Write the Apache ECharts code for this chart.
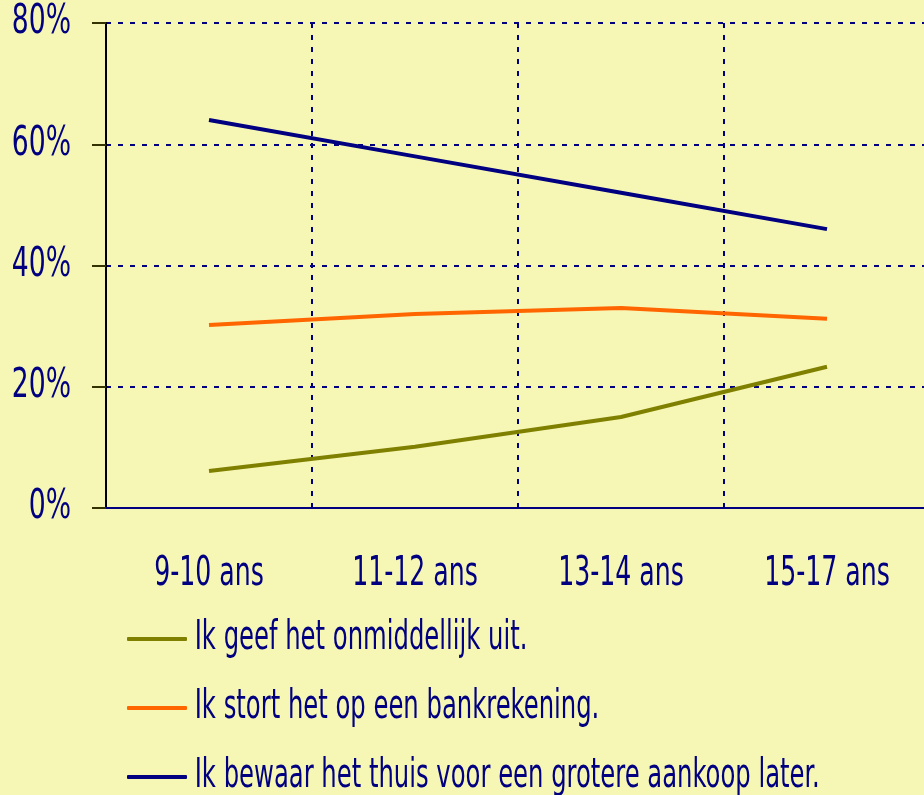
<!DOCTYPE html>
<html>
<head>
<meta charset="utf-8">
<script src="https://cdn.jsdelivr.net/npm/echarts@6/dist/echarts.min.js"></script>
<style>
html,body{margin:0;padding:0;background:#F7F7B5;}
#c{width:924px;height:795px;}
</style>
</head>
<body>
<div id="c"></div>
<script>
var categories = ['9-10 ans', '11-12 ans', '13-14 ans', '15-17 ans'];
var seriesNames = [
  'Ik geef het onmiddellijk uit.',
  'Ik stort het op een bankrekening.',
  'Ik bewaar het thuis voor een grotere aankoop later.'
];
var spendNow = [6.1, 10.1, 15.0, 23.3];
var bankAccount = [30.2, 32.0, 33.0, 31.2];
var saveAtHome = [64.0, 58.0, 52.0, 46.0];
var seriesColors = ['#808000', '#FF6600', '#000080'];

var FONT = '"DejaVu Sans Condensed", "Liberation Sans Narrow", sans-serif';
var TXT = '#000080';
var FS = 40;
// horizontal squeeze per text kind, to mimic the condensed typeface of the original
var SQUEEZE = { right: 0.74, center: 0.70, left: 0.675 };

var chart = echarts.init(document.getElementById('c'));
var values = [spendNow, bankAccount, saveAtHome];
chart.setOption({
  backgroundColor: '#F7F7B5',
  animation: false,
  grid: { left: 106, right: -6, top: 23, bottom: 287, containLabel: false, outerBoundsMode: 'none' },
  xAxis: {
    type: 'category',
    data: categories,
    boundaryGap: true,
    axisLine: { show: true, lineStyle: { color: '#000080', width: 2 } },
    axisTick: { show: false },
    axisLabel: { color: TXT, fontFamily: FONT, fontSize: FS, lineHeight: 40, margin: 47, interval: 0 },
    splitLine: { show: true, interval: 0, lineStyle: { color: '#000080', type: [5, 7], width: 2 } }
  },
  yAxis: {
    type: 'value',
    min: 0, max: 80, interval: 20,
    axisLine: { show: true, lineStyle: { color: '#000000', width: 2 } },
    axisTick: { show: true, length: 14, lineStyle: { color: '#333300', width: 2 } },
    axisLabel: { color: TXT, fontFamily: FONT, fontSize: FS, margin: 35, formatter: '{value}%' },
    splitLine: { show: true, lineStyle: { color: '#000080', type: [5, 7], width: 2 } }
  },
  legend: {
    orient: 'vertical',
    left: 127,
    top: 619,
    height: 180,
    padding: 0,
    itemWidth: 60,
    itemHeight: 4,
    itemGap: 29,
    icon: 'roundRect',
    textStyle: { color: TXT, fontFamily: FONT, fontSize: FS, lineHeight: 40, padding: [0, 0, 0, 4] },
    data: seriesNames
  },
  series: seriesNames.map(function (n, i) {
    return {
      name: n,
      type: 'line',
      data: values[i],
      showSymbol: false,
      symbol: 'none',
      color: seriesColors[i],
      lineStyle: { color: seriesColors[i], width: 4 }
    };
  })
});

function squeezeTexts(el) {
  if (el.type === 'text' && !el.__squeezed) {
    var align = (el.style && el.style.align) || 'left';
    var s = SQUEEZE[align] || SQUEEZE.left;
    el.originX = (el.style && el.style.x) || 0;
    el.scaleX = s;
    el.__squeezed = true;
    el.markRedraw && el.markRedraw();
  }
  if (el.isGroup && el.eachChild) {
    el.eachChild(squeezeTexts);
  }
}
var zr = chart.getZr();
zr.storage.getRoots().forEach(squeezeTexts);
zr.refresh();
</script>
</body>
</html>
